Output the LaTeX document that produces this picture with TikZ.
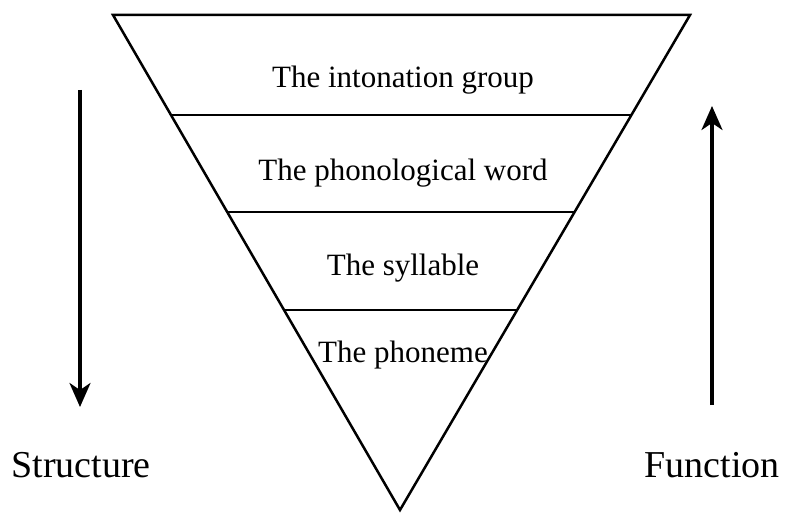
\documentclass[tikz,border=0pt]{standalone}
\usepackage{fontspec}
\setmainfont{Liberation Serif}
\usetikzlibrary{arrows.meta, positioning}

\begin{document}
\begin{tikzpicture}[
    x=1pt, y=-1pt,
    layer/.style={font=\fontsize{31}{36}\selectfont, inner sep=0pt},
    side/.style={font=\fontsize{38}{44}\selectfont, inner sep=0pt},
    edge/.style={line width=2.5pt, line join=miter},
    arrow/.style={-{Stealth[length=24pt, width=21pt, inset=7pt]}, line width=3.2pt}
]
    \useasboundingbox (0,0) rectangle (787,513);

    % Inverted triangle
    \coordinate (tl) at (113,15);
    \coordinate (tr) at (690,15);
    \coordinate (apex) at (400,510);
    \draw[edge] (tl) -- (tr) -- (apex) -- cycle;

    % Layer dividers
    \coordinate (l1) at (171.3,115);
    \coordinate (r1) at (631.4,115);
    \coordinate (l2) at (227.4,212);
    \coordinate (r2) at (574.6,212);
    \coordinate (l3) at (284.3,310);
    \coordinate (r3) at (517.2,310);
    \draw[edge] (l1) -- (r1);
    \draw[edge] (l2) -- (r2);
    \draw[edge] (l3) -- (r3);

    % Layer labels
    \node[layer] (intonation) at (403,80) {The intonation group};
    \node[layer] (word) at (403,173) {The phonological word};
    \node[layer] (syllable) at (403,268) {The syllable};
    \node[layer] (phoneme) at (403,355) {The phoneme};

    % Side labels
    \node[side] (structure) at (81,465) {Structure};
    \node[side] (function) at (712,465) {Function};

    % Arrows
    \coordinate (structtop) at (80,90);
    \coordinate (structend) at (80,407);
    \coordinate (functop) at (712,106);
    \coordinate (funcend) at (712,405);
    \draw[arrow] (structtop) -- (structend);
    \draw[arrow] (funcend) -- (functop);
\end{tikzpicture}
\end{document}
